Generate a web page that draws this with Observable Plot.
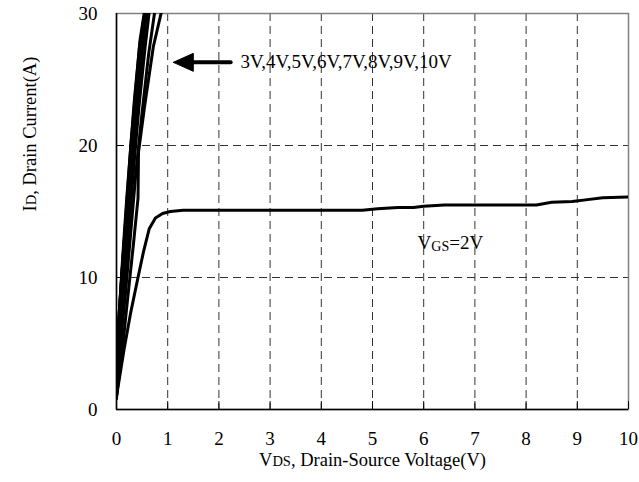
<!DOCTYPE html>
<html><head><meta charset="utf-8">
<script src="https://cdn.jsdelivr.net/npm/d3@7"></script>
<script src="https://cdn.jsdelivr.net/npm/@observablehq/plot@0.6"></script>
<style>body{margin:0;background:#fff} svg{display:block}</style>
</head><body><div id="chart"></div>
<script>
// ---- data (VDS in V, ID in A) ----
const xTicks = [0,1,2,3,4,5,6,7,8,9,10];
const yTicks = [0,10,20,30];
const gridX = [1,2,3,4,5,6,7,8,9];
const gridY = [10,20];

const vgs2  = [[0,1.0],[0.05,2.2],[0.15,4.6],[0.28,7.4],[0.42,10.0],[0.53,12.0],[0.64,13.7],[0.76,14.5],[0.9,14.85],[1.05,15.0],[1.3,15.1],[2,15.1],[3,15.1],[4,15.1],[4.8,15.1],[5.1,15.2],[5.5,15.3],[5.8,15.3],[6.0,15.4],[6.4,15.5],[7,15.5],[7.5,15.5],[8.2,15.5],[8.5,15.7],[8.9,15.75],[9.2,15.9],[9.5,16.05],[10,16.1]];
const vgs3  = [[0,1.0],[0.1,4.0],[0.22,8.5],[0.33,12.5],[0.42,16.0],[0.43,19.5],[0.55,23.0],[0.72,27.5],[0.9,30.5]];
const vgs4  = [[0,1.2],[0.08,5.0],[0.18,9.0],[0.28,13.5],[0.38,18.0],[0.5,22.5],[0.63,27.0],[0.76,30.5]];
const vgs5  = [[0,0.8],[0.06,5.0],[0.15,9.5],[0.25,14.0],[0.34,18.5],[0.44,23.0],[0.56,27.5],[0.65,30.5]];
const vgs6  = [[0,1.0],[0.05,6.0],[0.13,10.0],[0.22,14.5],[0.31,19.0],[0.4,23.0],[0.5,27.0],[0.6,30.5]];
const vgs7  = [[0,1.5],[0.04,6.5],[0.11,10.5],[0.2,15.0],[0.3,20.0],[0.38,23.5],[0.48,27.5],[0.58,30.5]];
const vgs8  = [[0,1.0],[0.03,6.0],[0.1,10.0],[0.19,15.0],[0.28,20.0],[0.37,24.0],[0.46,28.0],[0.56,30.5]];
const vgs9  = [[0,2.0],[0.05,7.0],[0.12,11.5],[0.2,16.0],[0.28,20.0],[0.35,23.5],[0.45,27.5],[0.57,30.5]];
const vgs10 = [[0,1.3],[0.04,6.0],[0.12,11.0],[0.21,15.5],[0.3,20.5],[0.39,24.5],[0.5,28.5],[0.62,30.5]];

const seriesNames = ["2V","3V","4V","5V","6V","7V","8V","9V","10V"];
const seriesData  = [vgs2,vgs3,vgs4,vgs5,vgs6,vgs7,vgs8,vgs9,vgs10];

const arrowHead  = [[1.11,26.3],[1.5,26.98],[1.5,25.62],[1.11,26.3]];
const arrowShaft = [[1.45,26.3],[2.23,26.3]];
const annotations = [
  {x: 2.42, y: 26.3, text: "3V,4V,5V,6V,7V,8V,9V,10V"},
  {x: 5.88, y: 12.65, text: "VGS=2V"}
];
const xLabel = "VDS, Drain-Source Voltage(V)";
const yLabel = "ID, Drain Current(A)";

// ---- build table ----
const curves = seriesData.flatMap((arr, i) => arr.map(([x, y]) => ({series: seriesNames[i], x, y})));
const toXY = arr => arr.map(([x, y]) => ({x, y}));
const serif = "'Liberation Serif', 'Times New Roman', serif";

const chart = Plot.plot({
  width: 639, height: 482,
  marginTop: 13, marginRight: 11, marginBottom: 73, marginLeft: 116,
  style: {fontFamily: serif, fontSize: "19px", color: "#000", background: "#fff", overflow: "visible"},
  x: {domain: [0, 10]},
  y: {domain: [0, 30]},
  marks: [
    Plot.ruleX(gridX, {x: d => d, stroke: "#333", strokeDasharray: "8,5", strokeWidth: 1}),
    Plot.ruleY(gridY, {y: d => d, stroke: "#333", strokeDasharray: "8,5", strokeWidth: 1}),
    Plot.frame({stroke: "#808080", strokeWidth: 1.5}),
    Plot.ruleX([0], {stroke: "#000", strokeWidth: 1.5}),
    Plot.ruleY([0], {stroke: "#000", strokeWidth: 1.5}),
    Plot.ruleX(xTicks, {x: d => d, y1: 0, y2: 0.6, stroke: "#000", strokeWidth: 1}),
    Plot.ruleY(gridY, {y: d => d, x1: 0, x2: 0.15, stroke: "#000", strokeWidth: 1}),
    Plot.axisX({ticks: xTicks, tickFormat: d => String(d), tickSize: 0, tickPadding: 22, label: null, fontSize: 19, fontFamily: serif, fill: "#000"}),
    Plot.axisY({ticks: yTicks, tickFormat: d => String(d), tickSize: 0, tickPadding: 19, label: null, fontSize: 19, fontFamily: serif, fill: "#000"}),
    Plot.line(curves, {x: "x", y: "y", z: "series", stroke: "#000", strokeWidth: 3, clip: true, strokeLinejoin: "round"}),
    Plot.line(toXY(arrowHead), {x: "x", y: "y", fill: "#000", stroke: "#000", strokeWidth: 1}),
    Plot.line(toXY(arrowShaft), {x: "x", y: "y", stroke: "#000", strokeWidth: 4}),
    Plot.text(annotations, {x: "x", y: "y", text: "text", textAnchor: "start", fontSize: 19, fontFamily: serif, fill: "#000"}),
    Plot.text([xLabel], {text: d => d, frameAnchor: "bottom", dy: 56, fontSize: 18.5, fontFamily: serif, fill: "#000"}),
    Plot.text([yLabel], {text: d => d, frameAnchor: "left", dx: -86, rotate: -90, fontSize: 18.5, fontFamily: serif, fill: "#000"})
  ]
});

// subscripts as real text via tspans
function subscript(el, main, sub, rest, subSize, shift) {
  el.textContent = "";
  const ns = "http://www.w3.org/2000/svg";
  const a = document.createElementNS(ns, "tspan"); a.textContent = main; el.appendChild(a);
  const b = document.createElementNS(ns, "tspan"); b.textContent = sub; b.setAttribute("font-size", subSize);
  if (shift) b.setAttribute("dy", shift);
  el.appendChild(b);
  const c = document.createElementNS(ns, "tspan"); c.textContent = rest;
  if (shift) c.setAttribute("dy", -shift);
  el.appendChild(c);
}
chart.querySelectorAll("text").forEach(t => {
  const s = t.textContent;
  if (s === xLabel) subscript(t, "V", "DS", ", Drain-Source Voltage(V)", 14.5, 0);
  else if (s === yLabel) subscript(t, "I", "D", ", Drain Current(A)", 14.5, 0);
  else if (s === "VGS=2V") subscript(t, "V", "GS", "=2V", 14, 2);
});
document.getElementById("chart").appendChild(chart);
</script>
</body></html>
